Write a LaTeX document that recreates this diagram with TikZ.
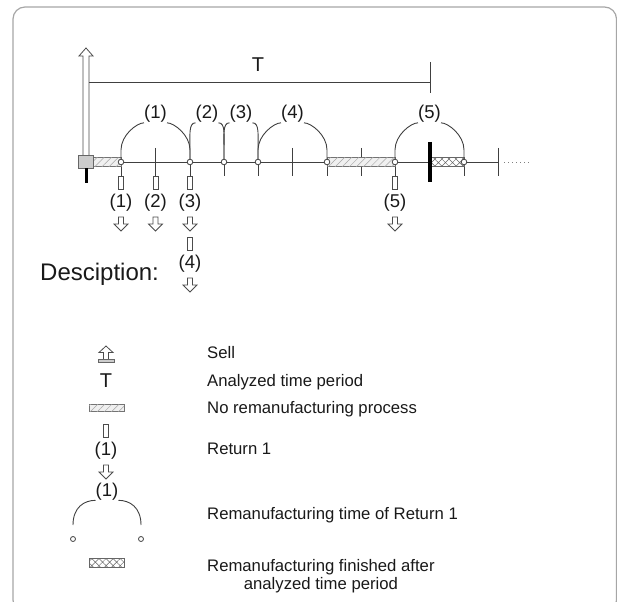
\documentclass[tikz,border=0pt]{standalone}
\usepackage{fontspec}
\setmainfont{Liberation Sans}
\usetikzlibrary{patterns.meta}

\tikzset{
  axisline/.style={draw=black!75, line width=0.9pt},
  hollow/.style={draw=black!70, line width=0.8pt, fill=white},
  hatched/.style={draw=black!55, line width=0.7pt, fill=black!6,
    postaction={pattern={Lines[angle=45, distance=5pt, line width=0.5pt]}, pattern color=black!35}},
  crossed/.style={draw=black!60, line width=0.7pt, fill=white,
    postaction={pattern={Hatch[angle=45, distance=5pt, line width=0.5pt]}, pattern color=black!60}},
  dot/.style={draw=black!75, line width=0.8pt, fill=white},
  numlabel/.style={inner sep=0pt, text=black!90, font=\fontsize{18.5}{19}\selectfont},
  biglabel/.style={inner sep=0pt, anchor=base, text=black!90, font=\fontsize{20}{20}\selectfont},
  legtext/.style={anchor=base west, inner sep=0pt, text=black!90, font=\fontsize{16.7}{18.6}\selectfont},
  returnarrow/.pic={
    \draw[hollow] (-2.5,0) rectangle (2.5,13);
    \node[numlabel] (-lab) at (0,27) {(#1)};
    \draw[hollow] (-2.5,41) -- (-2.5,48) -- (-7,48) -- (0,55) -- (7,48) -- (2.5,48) -- (2.5,41) -- cycle;
  },
}

\begin{document}
\begin{tikzpicture}[x=1pt, y=-1pt]
  \useasboundingbox (0,0) rectangle (617,601);
  % frame
  \draw[black!35, line width=1.2pt, rounded corners=12pt] (13,7) rectangle (616.5,612);

  % sell
  \draw[hollow] (83,156) -- (83,56) -- (79,56) -- (86,48) -- (93,56) -- (89,56) -- (89,156);

  % analyzed time period
  \draw[axisline] (89,82) -- (430,82);
  \draw[axisline] (430,62) -- (430,93);
  \node[biglabel] (Tlab) at (258,72) {T};

  % time axis
  \draw[axisline] (93,162) -- (498.5,162);
  \draw[black!50, line width=0.8pt, dash pattern=on 1pt off 3pt] (504,162) -- (532,162);
  \foreach \x in {155.5,292.5,361,498.5}
    \draw[axisline] (\x,148) -- (\x,176);
  \foreach \x in {121,190,224,258,327,395,464}
    \draw[axisline] (\x,162) -- (\x,176);

  % no remanufacturing
  \draw[hatched] (93,157.5) rectangle (121,166.5);
  \draw[hatched] (327,157.5) rectangle (395,166.5);
  % finished after T
  \draw[crossed] (430,157.5) rectangle (464,166.5);

  \draw[draw=black!60, fill=black!20, line width=0.8pt] (78,155.5) rectangle (93,168);
  \draw[line width=3pt] (86,168) -- (86,183);
  \draw[line width=3.5pt] (430,142) -- (430,182);

  % remanufacturing times
  \foreach \a/\b/\n in {121/190/1, 190/224/2, 224/258/3, 258/327/4, 395/464/5}{
    \node[numlabel] (arc\n) at ({(\a+\b)/2},114) {(\n)};
    \draw[axisline] (\a,162) -- (\a,150) .. controls +(0,-15) and +(-7,0) .. (arc\n.south west);
    \draw[axisline] (arc\n.south east) .. controls +(7,0) and +(0,-15) .. (\b,150) -- (\b,162);
  }
  \foreach \x in {121,190,224,258,327,395,464}
    \draw[dot] (\x,162) circle (2.8pt);

  % returns
  \pic (ret1) at (121,176) {returnarrow=1};
  \pic (ret2) at (155.5,176) {returnarrow=2};
  \pic (ret3) at (190,176) {returnarrow=3};
  \pic (ret4) at (190,237) {returnarrow=4};
  \pic (ret5) at (395,176) {returnarrow=5};

  % description
  \node[anchor=base west, inner sep=0pt, text=black!90, font=\fontsize{24}{24}\selectfont] (desc) at (40,280) {Desciption:};

  \draw[hollow] (103.5,359) -- (103.5,352.5) -- (99,352.5) -- (106,346) -- (113,352.5) -- (108.5,352.5) -- (108.5,359);
  \draw[draw=black!60, fill=black!20, line width=0.8pt] (98,359) rectangle (114,362.5);
  \node[legtext] (sell) at (207,358.5) {Sell};

  \node[biglabel] (legT) at (106,387) {T};
  \node[legtext] (period) at (207,386) {Analyzed time period};

  \draw[hatched] (89,404) rectangle (124,411.5);
  \node[legtext] (noremf) at (207,413) {No remanufacturing process};

  \begin{scope}[shift={(106,424)}, yscale=0.85]
    \pic (legret) {returnarrow=1};
  \end{scope}
  \node[legtext] (ret) at (207,454) {Return 1};

  \node[numlabel] (legarc) at (107,491.5) {(1)};
  \draw[axisline] (73,525) .. controls +(0,-18) and +(-11,0) .. (legarc.south west);
  \draw[axisline] (legarc.south east) .. controls +(11,0) and +(0,-18) .. (141,525);
  \draw[dot] (73,539) circle (2.5pt);
  \draw[dot] (141,539) circle (2.5pt);
  \node[legtext] (remtime) at (207,519) {Remanufacturing time of Return 1};

  \draw[crossed] (89,558) rectangle (124,567);
  \node[legtext] (fin1) at (207,571) {Remanufacturing finished after};
  \node[anchor=base, inner sep=0pt, text=black!90, font=\fontsize{16.7}{18.6}\selectfont] (fin2) at ([yshift=-18pt]fin1.base) {analyzed time period};
\end{tikzpicture}
\end{document}
